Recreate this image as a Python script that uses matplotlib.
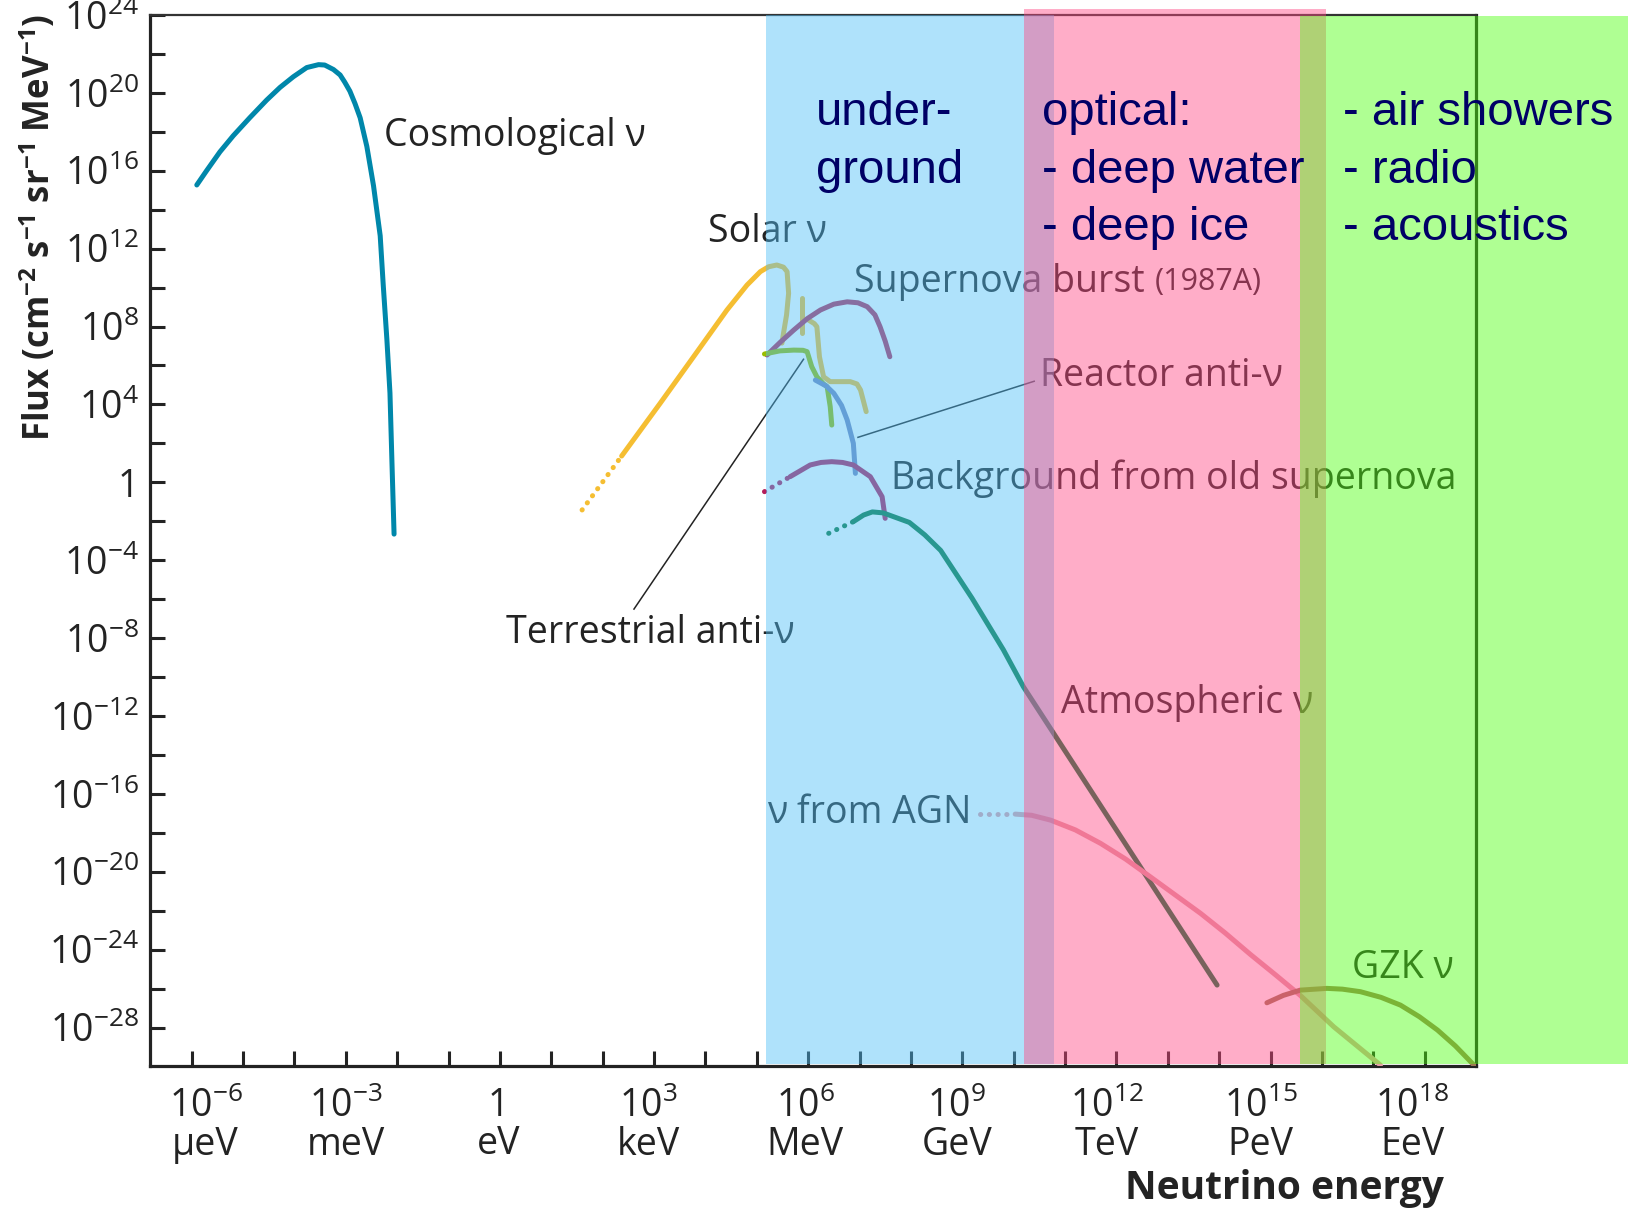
import numpy as np
import matplotlib.pyplot as plt
from matplotlib.ticker import FixedLocator, FixedFormatter, NullFormatter

plt.rcParams['font.family'] = ['Open Sans', 'DejaVu Sans']
plt.rcParams['mathtext.fontset'] = 'custom'
plt.rcParams['mathtext.rm'] = 'Open Sans'
plt.rcParams['mathtext.bf'] = 'Open Sans:bold'
plt.rcParams['mathtext.it'] = 'Open Sans:italic'

# spectra as log10(E / eV) and log10(flux)
cosmo_logE = [-5.90, -5.71, -5.45, -5.19, -4.87, -4.54, -4.28, -4.02, -3.76, -3.53,
              -3.41, -3.24, -3.11, -3.02, -2.92, -2.82, -2.72, -2.59, -2.46, -2.33,
              -2.27, -2.20, -2.14, -2.10, -2.06]
cosmo_logF = [15.27, 16.00, 16.97, 17.80, 18.72, 19.63, 20.28, 20.83, 21.30, 21.45,
              21.43, 21.20, 20.92, 20.55, 20.09, 19.45, 18.72, 17.25, 15.23, 12.66,
              10.10, 7.34, 4.59, 0.92, -2.66]

solar_dot_logE = [1.60, 2.37]
solar_dot_logF = [-1.42, 1.35]
solar_logE = [2.37, 3.12, 3.77, 4.42, 4.81, 5.07, 5.23, 5.39, 5.52, 5.59, 5.62, 5.58, 5.52, 5.49]
solar_logF = [1.35, 4.06, 6.45, 8.85, 10.13, 10.82, 11.07, 11.16, 11.05, 10.82, 9.71, 8.60, 7.65, 7.15]
solar_line_logE = [5.875, 5.875]
solar_line_logF = [9.46, 7.67]
solar_b8_logE = [6.01, 6.12, 6.17, 6.22, 6.30, 6.43, 6.82, 6.95, 7.02, 7.13]
solar_b8_logF = [8.33, 8.15, 7.99, 6.45, 5.42, 5.17, 5.17, 5.05, 4.74, 3.63]

sn_logE = [5.20, 5.46, 5.72, 5.98, 6.24, 6.50, 6.76, 6.97, 7.15, 7.30, 7.40, 7.50, 7.59]
sn_logF = [6.54, 7.20, 7.82, 8.40, 8.85, 9.15, 9.27, 9.22, 9.02, 8.60, 7.99, 7.25, 6.45]

terr_logE = [5.15, 5.45, 5.72, 5.90, 5.98, 6.07, 6.17, 6.30, 6.37, 6.43, 6.46]
terr_logF = [6.59, 6.75, 6.79, 6.78, 6.71, 5.94, 5.42, 5.05, 4.91, 3.88, 2.94]

reactor_logE = [6.14, 6.35, 6.50, 6.65, 6.76, 6.88, 6.92]
reactor_logF = [5.25, 4.95, 4.57, 3.95, 3.20, 2.00, 0.46]

oldsn_dot_logE = [5.15, 5.65]
oldsn_dot_logF = [-0.48, 0.29]
oldsn_logE = [5.65, 6.04, 6.25, 6.46, 6.67, 6.88, 7.21, 7.44, 7.50]
oldsn_logF = [0.29, 0.89, 1.02, 1.06, 1.02, 0.89, 0.29, -0.74, -1.85]

atm_dot_logE = [6.40, 6.88]
atm_dot_logF = [-2.62, -2.02]
atm_logE = [6.88, 7.08, 7.25, 7.46, 7.97, 8.27, 8.58, 9.19, 9.80, 10.19, 13.96]
atm_logF = [-2.02, -1.68, -1.52, -1.57, -2.06, -2.70, -3.50, -5.95, -8.60, -10.50, -25.82]

agn_dot_logE = [9.35, 10.03]
agn_dot_logF = [-17.04, -17.04]
agn_logE = [10.03, 10.35, 10.72, 11.20, 11.69, 12.18, 12.66, 13.15, 13.64, 14.12, 14.61,
            15.10, 15.58, 16.23, 17.14]
agn_logF = [-17.04, -17.10, -17.35, -17.85, -18.54, -19.35, -20.26, -21.20, -22.14,
            -23.15, -24.25, -25.30, -26.35, -27.96, -29.93]

gzk_logE = [14.93, 15.25, 15.58, 16.10, 16.40, 16.75, 17.15, 17.53, 17.90, 18.25, 18.60, 18.96]
gzk_logF = [-26.73, -26.35, -26.08, -25.99, -26.03, -26.16, -26.45, -26.85, -27.45,
            -28.13, -28.95, -29.93]

# detection technique bands (log10 E range)
bands = [
    (5.184, 10.779, '#4fbff8', 24.0),
    (10.195, 16.084, '#ff4985', 24.29),
    (15.583, 21.96, '#4fff11', 23.95),
]
band_text = [
    (6.154, ['under-', 'ground']),
    (10.55, ['optical:', '- deep water', '- deep ice']),
    (16.41, ['- air showers', '- radio', '- acoustics']),
]

xtick_exp = [-6, -3, 0, 3, 6, 9, 12, 15, 18]
xtick_unit = ['μeV', 'meV', 'eV', 'keV', 'MeV', 'GeV', 'TeV', 'PeV', 'EeV']
xtick_shift = [10, 0, -1, -4, -2, -4, -7, -7, -9]   # label nudge, points
ytick_exp = list(range(24, -29, -4))

ink = '#232323'
c_cosmo = '#0087aa'
c_solar = '#f5be32'
c_sn = '#b52c58'
c_terr = '#9abd00'
c_reactor = '#7586bc'
c_oldsn = '#b41e5a'
c_atm = '#0a783c'
c_agn = '#e49ea4'
c_gzk = '#a07855'


def p(v):
    return 10.0 ** np.asarray(v, dtype=float)


fig = plt.figure(figsize=(16.38, 12.09), dpi=100)
ax = fig.add_axes([0.0916, 0.1179, 0.8095, 0.8697])
ax.set_xscale('log')
ax.set_yscale('log')
ax.set_xlim(10 ** -6.81, 10 ** 19.0)
ax.set_ylim(1e-30, 1e24)

lw = 3.6


def curve(x, y, color):
    ax.plot(p(x), p(y), color=color, lw=lw, solid_capstyle='round',
            solid_joinstyle='round', zorder=3)


def dots(x, y, color):
    ax.plot(p(x), p(y), color=color, lw=lw, linestyle=(0, (0.05, 1.7)),
            dash_capstyle='round', zorder=3)


curve(cosmo_logE, cosmo_logF, c_cosmo)
dots(solar_dot_logE, solar_dot_logF, c_solar)
curve(solar_logE, solar_logF, c_solar)
curve(solar_line_logE, solar_line_logF, c_solar)
curve(solar_b8_logE, solar_b8_logF, c_solar)
curve(sn_logE, sn_logF, c_sn)
curve(terr_logE, terr_logF, c_terr)
curve(reactor_logE, reactor_logF, c_reactor)
dots(oldsn_dot_logE, oldsn_dot_logF, c_oldsn)
curve(oldsn_logE, oldsn_logF, c_oldsn)
dots(atm_dot_logE, atm_dot_logF, c_atm)
curve(atm_logE, atm_logF, c_atm)
dots(agn_dot_logE, agn_dot_logF, c_agn)
curve(agn_logE, agn_logF, c_agn)
curve(gzk_logE, gzk_logF, c_gzk)

# pointer lines
ax.plot(p([6.97, 10.40]), p([2.31, 5.19]), color=ink, lw=1.1, zorder=3)
ax.plot(p([5.91, 2.61]), p([6.32, -6.51]), color=ink, lw=1.1, zorder=3)

fs = 27
labels = [
    (-2.26, 17.79, 'Cosmological ν'),
    (4.06, 12.85, 'Solar ν'),
    (10.52, 5.46, 'Reactor anti-ν'),
    (7.62, 0.17, 'Background from old supernova'),
    (0.12, -7.74, 'Terrestrial anti-ν'),
    (10.93, -11.34, 'Atmospheric ν'),
    (5.19, -16.99, 'ν from AGN'),
    (16.58, -24.95, 'GZK ν'),
]
for lx, ly, s in labels:
    ax.text(10 ** lx, 10 ** ly, s, fontsize=fs, color=ink, ha='left', va='center', zorder=3)
t = ax.text(10 ** 6.90, 10 ** 10.29, 'Supernova burst', fontsize=fs, color=ink,
            ha='left', va='center', zorder=3)
ax.annotate('(1987A)', xy=(1, 0), xycoords=t, xytext=(7, 3), textcoords='offset points',
            fontsize=22, color=ink, ha='left', va='bottom', zorder=3)

# translucent bands drawn over everything in the axes
for x0, x1, col, top in bands:
    ax.axvspan(10 ** x0, 10 ** x1, ymin=0.002, ymax=(top + 30) / 54, color=col,
               alpha=0.45, lw=0, zorder=5, clip_on=False)

baselines = [18.33, 15.38, 12.43]
for bx, lines in band_text:
    for line, by in zip(lines, baselines):
        ax.text(10 ** bx, 10 ** by, line, fontsize=34, color='#000066',
                family=['Liberation Sans', 'DejaVu Sans'], ha='left', va='baseline', zorder=6)

# axes styling
for side in ['left', 'bottom', 'right']:
    ax.spines[side].set_linewidth(2.3)
    ax.spines[side].set_color(ink)
ax.spines['top'].set_linewidth(1.6)
ax.spines['top'].set_color('#333333')

# x ticks: one per decade, labels every third decade set slightly off their ticks
ax.xaxis.set_major_locator(FixedLocator(p(np.arange(-6, 19))))
ax.xaxis.set_major_formatter(NullFormatter())
for e, u, dx in zip(xtick_exp, xtick_unit, xtick_shift):
    top = '1' if e == 0 else r'$\mathregular{10^{%d}}$' % e
    ax.annotate(top + '\n' + u, xy=(10.0 ** e, 0), xycoords=('data', 'axes fraction'),
                xytext=(dx, -15), textcoords='offset points', ha='center', va='top',
                fontsize=27, color=ink, linespacing=1.0, annotation_clip=False)

ax.yaxis.set_major_locator(FixedLocator(p(ytick_exp)))
ylabels = ['1' if e == 0 else r'$\mathregular{10^{%d}}$' % e for e in ytick_exp]
ax.yaxis.set_major_formatter(FixedFormatter(ylabels))
ax.yaxis.set_minor_locator(FixedLocator(p(np.arange(-28, 25, 2))))
ax.yaxis.set_minor_formatter(NullFormatter())
ax.xaxis.set_minor_locator(FixedLocator([]))

ax.tick_params(which='both', direction='in', length=11, width=2.2, color=ink,
               top=False, right=False)
ax.tick_params(axis='y', which='major', labelsize=27, labelcolor=ink, pad=8)

ax.set_ylabel(r'Flux (cm$^{\mathbf{-2}}$ s$^{\mathbf{-1}}$ sr$^{\mathbf{-1}}$ MeV$^{\mathbf{-1}}$)',
              fontsize=25, fontweight='bold', color=ink)
ax.yaxis.set_label_coords(-0.069, 0.798)
fig.text(0.8815, 0.0167, 'Neutrino energy', fontsize=28, fontweight='bold', color=ink,
         ha='right', va='center')

fig.savefig('out.png', dpi=100, facecolor='white')
